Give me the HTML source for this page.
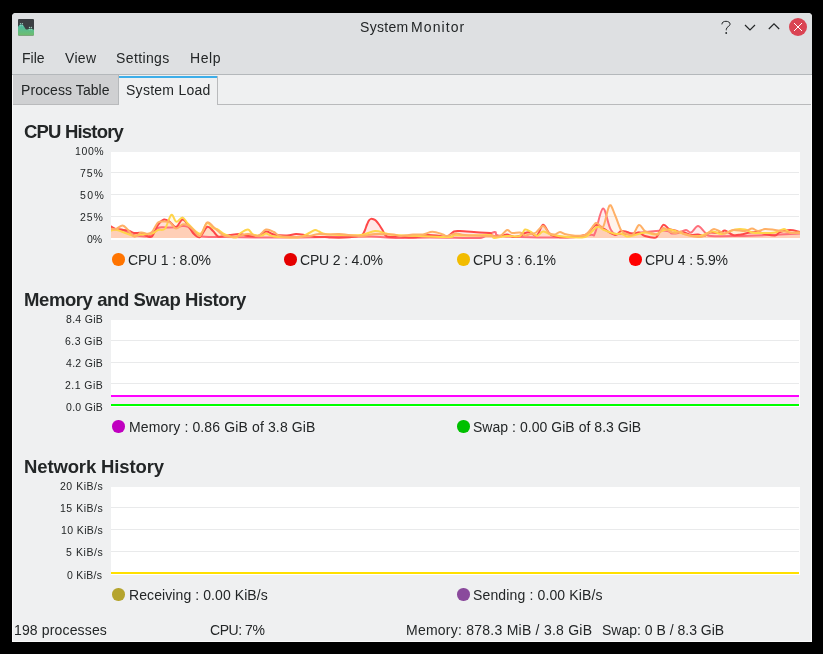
<!DOCTYPE html>
<html><head><meta charset="utf-8">
<style>
html,body{margin:0;padding:0;}
body{width:823px;height:654px;background:#000;position:relative;overflow:hidden;font-family:"Liberation Sans",sans-serif;color:#232627;}
.a{position:absolute;white-space:nowrap;}
.tx{will-change:transform;}
.dot{position:absolute;width:12.5px;height:12.5px;border-radius:50%;}
.plot{position:absolute;left:111px;width:689px;background:#fff;}
.grid{position:absolute;left:111px;width:688px;height:1px;background:#e9eaeb;}
</style></head>
<body>
<div class="a" style="left:12px;top:13px;width:800px;height:629px;background:#eff0f1;border-radius:4px 4px 0 0;"></div>
<div class="a" style="left:12px;top:13px;width:800px;height:61px;background:#dee0e2;border-radius:4px 4px 0 0;"></div>
<div class="a" style="left:12px;top:74px;width:800px;height:1px;background:#b4b8bb;"></div>
<div class="a" style="left:12px;top:75px;width:1px;height:567px;background:#fafafa;"></div>
<div class="a" style="left:811px;top:75px;width:1px;height:567px;background:#fafafa;"></div>
<div class="a" style="left:12px;top:641px;width:800px;height:1px;background:#fafafa;"></div>

<svg class="a" style="left:18px;top:19px" width="16" height="17" viewBox="0 0 16 17">
<defs><linearGradient id="ig" x1="0" y1="0" x2="0" y2="1"><stop offset="0" stop-color="#48bba9"/><stop offset="1" stop-color="#6fbd6c"/></linearGradient></defs>
<rect x="0" y="0" width="16" height="16.5" rx="1" fill="#3b3f43"/>
<path d="M0 8.1 C0.5 7 1.5 5.6 2.6 5.5 L4.1 5.5 C5 5.6 5.6 6.6 6.9 9 C7.5 10 8 10.6 8.8 10.6 C9.6 10.6 10.4 9.8 11.5 9.8 L13.3 9.8 C14.3 9.8 15.2 10.5 16 10.8 L16 15.5 Q16 16.5 15 16.5 L1 16.5 Q0 16.5 0 15.5 Z" fill="url(#ig)"/>
<g fill="#a0cfc0"><circle cx="2.5" cy="4.6" r="0.7"/><circle cx="4.4" cy="4.6" r="0.7"/><circle cx="11.5" cy="8.4" r="0.7"/><circle cx="13.4" cy="8.4" r="0.7"/></g>
<g fill="#8ed3bd" opacity="0.8"><circle cx="2.5" cy="6.6" r="0.8"/><circle cx="4.4" cy="6.6" r="0.8"/><circle cx="11.5" cy="10.5" r="0.8"/><circle cx="13.4" cy="10.5" r="0.8"/></g>
</svg>

<svg class="a" style="left:712px;top:13px" width="100" height="28" viewBox="712 13 100 28">
<path d="M721.9 24.4 C721.9 22.2 723.7 21.3 726 21.3 C728.3 21.3 730.1 22.4 730.1 24.2 C730.1 26.3 726.3 26.8 726.3 29.3 L726.3 30.3" fill="none" stroke="#232627" stroke-width="1"/>
<circle cx="726.2" cy="33" r="0.9" fill="#232627"/>
<path d="M745 25 L750 30 L755 25" fill="none" stroke="#232627" stroke-width="1.2"/>
<path d="M768.8 29 L774 23.8 L779.2 29" fill="none" stroke="#232627" stroke-width="1.2"/>
<circle cx="798" cy="27" r="9" fill="#da4453"/>
<path d="M794 23 L802 31 M802 23 L794 31" stroke="#fff" stroke-width="1"/>
</svg>

<div class="a" style="left:13px;top:75px;width:105px;height:29px;background:#cfd0d2;border-right:1px solid #b6b9bb;"></div>
<div class="a" style="left:218px;top:104px;width:593px;height:1px;background:#b9babc;"></div>
<div class="a" style="left:13px;top:104px;width:106px;height:1px;background:#b9babc;"></div>
<div class="a" style="left:119px;top:76px;width:98px;height:2px;background:#3daee9;"></div>
<div class="a" style="left:217px;top:76px;width:1px;height:29px;background:#b9babc;"></div>

<div class="plot" style="top:152px;height:88px;"></div>
<div class="grid" style="top:172px"></div>
<div class="grid" style="top:194px"></div>
<div class="grid" style="top:216px"></div>

<div class="dot" style="left:112px;top:253px;background:#ff7400"></div>
<div class="dot" style="left:284px;top:253px;background:#e50000"></div>
<div class="dot" style="left:457px;top:253px;background:#f2bc00"></div>
<div class="dot" style="left:629px;top:253px;background:#ff0000"></div>

<div class="plot" style="top:320px;height:87px;"></div>
<div class="grid" style="top:340px"></div>
<div class="grid" style="top:362px"></div>
<div class="grid" style="top:383px"></div>
<div class="a" style="left:111px;top:397px;width:688px;height:9px;background:#fbe5fb;"></div>
<div class="a" style="left:111px;top:395px;width:688px;height:2px;background:#ff00ff;"></div>
<div class="a" style="left:111px;top:404px;width:688px;height:2px;background:#00ff00;"></div>
<div class="dot" style="left:112px;top:420px;background:#c000c0"></div>
<div class="dot" style="left:457px;top:420px;background:#00c000"></div>

<div class="plot" style="top:487px;height:88px;"></div>
<div class="grid" style="top:507px"></div>
<div class="grid" style="top:529px"></div>
<div class="grid" style="top:551px"></div>
<div class="a" style="left:111px;top:572px;width:688px;height:2px;background:#ffe000;"></div>
<div class="dot" style="left:112px;top:588px;background:#b5a42e"></div>
<div class="dot" style="left:457px;top:588px;background:#8a4a9c"></div>
<svg class="a" style="left:111px;top:152px" width="689" height="88" viewBox="111 152 689 88">
<path d="M111.0 228.5 C112.8 228.7 118.8 228.6 122.0 229.5 C125.2 230.4 127.0 232.9 130.0 234.0 C133.0 235.1 136.7 235.7 140.0 236.0 C143.3 236.3 147.0 237.3 150.0 236.0 C153.0 234.7 155.3 229.4 158.0 228.0 C160.7 226.6 163.0 227.6 166.0 227.5 C169.0 227.4 173.3 227.4 176.0 227.2 C178.7 226.9 180.0 226.0 182.0 226.0 C184.0 226.0 185.0 225.3 188.0 227.0 C191.0 228.7 193.8 234.3 200.0 236.0 C206.2 237.7 215.0 236.8 225.0 237.0 C235.0 237.2 247.5 237.4 260.0 237.5 C272.5 237.6 287.3 237.6 300.0 237.5 C312.7 237.4 324.2 237.2 336.0 237.0 C347.8 236.8 361.0 236.3 371.0 236.5 C381.0 236.7 386.2 237.8 396.0 238.0 C405.8 238.0 418.5 237.5 430.0 237.5 C441.5 237.5 456.7 237.9 465.0 238.0 C473.3 238.0 475.1 238.0 480.0 238.0 C484.9 237.0 491.5 232.4 494.5 232.0 C497.5 231.6 493.8 234.7 498.0 235.5 C502.2 236.3 509.7 236.7 520.0 237.0 C530.3 237.3 548.3 237.8 560.0 237.5 C571.7 237.2 584.2 235.8 590.0 235.0 C595.8 234.2 592.8 237.4 595.0 233.0 C597.2 228.6 600.3 209.0 603.0 208.5 C605.7 208.0 608.0 225.8 611.0 230.0 C614.0 234.2 612.3 233.9 621.0 234.0 C629.7 234.1 654.5 230.6 663.0 230.5 C671.5 230.4 669.5 233.1 672.0 233.5 C674.5 233.9 675.7 233.6 678.0 233.0 C680.3 232.4 683.8 230.1 686.0 230.0 C688.2 229.9 689.0 233.2 691.0 232.5 C693.0 231.8 695.7 226.0 698.0 226.0 C700.3 226.0 702.8 230.8 705.0 232.5 C707.2 234.2 705.2 235.4 711.0 236.0 C716.8 236.6 728.5 236.2 740.0 236.0 C751.5 235.8 770.0 234.9 780.0 234.5 C790.0 234.1 796.7 233.7 800.0 233.5 L800.0 238 L111.0 238 Z" fill="#ff6e7a" fill-opacity="0.135"/>
<path d="M111.0 226.5 C112.0 227.0 114.2 228.8 117.0 229.5 C119.8 230.2 125.2 229.9 128.0 230.5 C130.8 231.1 131.8 232.6 134.0 233.0 C136.2 233.4 138.8 232.5 141.0 233.0 C143.2 233.5 145.2 235.4 147.0 236.0 C148.8 236.6 150.2 238.0 152.0 236.5 C153.8 234.7 156.0 227.8 158.0 225.0 C160.0 222.2 162.0 220.0 164.0 219.5 C166.0 219.0 168.0 220.8 170.0 222.0 C172.0 223.2 173.9 227.4 176.0 227.0 C178.1 226.6 180.5 219.9 182.5 219.6 C184.5 219.3 186.2 222.8 188.0 225.0 C189.8 227.2 191.0 231.0 193.0 233.0 C195.0 235.0 197.7 238.0 200.0 237.0 C202.3 236.0 204.8 228.0 207.0 227.0 C209.2 226.0 211.2 229.4 213.0 231.0 C214.8 232.6 216.0 235.7 218.0 236.5 C220.0 237.3 223.0 236.2 225.0 236.0 C227.0 235.8 227.5 235.3 230.0 235.0 C232.5 234.7 237.0 233.8 240.0 234.0 C243.0 234.2 245.0 235.7 248.0 236.0 C251.0 236.3 255.0 236.8 258.0 236.0 C261.0 235.2 263.3 231.8 266.0 231.5 C268.7 231.2 270.5 233.8 274.0 234.5 C277.5 235.2 283.3 235.6 287.0 235.5 C290.7 235.4 293.0 234.1 296.0 234.0 C299.0 233.9 301.8 234.5 305.0 235.0 C308.2 235.5 311.7 236.7 315.0 237.0 C318.3 237.3 322.3 236.9 325.0 237.0 C327.7 237.1 327.7 237.4 331.0 237.5 C334.3 237.6 341.0 237.7 345.0 237.5 C349.0 237.3 352.2 236.9 355.0 236.5 C357.8 236.1 360.3 236.1 362.0 235.0 C363.7 233.9 364.2 231.8 365.0 230.0 C365.8 228.2 366.3 226.1 367.0 224.5 C367.7 222.9 368.3 221.3 369.0 220.4 C369.7 219.5 370.2 219.1 371.0 218.9 C371.8 218.7 372.7 219.0 373.5 219.3 C374.3 219.6 375.1 219.9 376.0 220.8 C376.9 221.7 377.9 223.0 379.0 224.5 C380.1 226.0 381.2 228.0 382.5 230.0 C383.8 232.0 384.1 235.4 387.0 236.5 C389.9 237.6 395.7 236.3 400.0 236.5 C404.3 236.7 408.3 237.8 413.0 237.5 C417.7 237.2 423.5 235.2 428.0 235.0 C432.5 234.8 436.8 235.8 440.0 236.0 C443.2 236.2 444.7 237.2 447.0 236.5 C449.3 235.8 451.8 232.4 454.0 231.5 C456.2 230.6 455.7 230.8 460.0 231.0 C464.3 231.2 475.0 232.2 480.0 232.5 C485.0 232.8 488.0 232.5 490.0 233.0 C492.0 233.5 490.3 234.9 492.0 235.5 C493.7 236.1 497.5 236.7 500.0 236.5 C502.5 236.3 504.7 234.4 507.0 234.5 C509.3 234.6 511.7 236.8 514.0 237.0 C516.3 237.2 519.2 236.2 521.0 235.5 C522.8 234.8 523.5 233.5 525.0 233.0 C526.5 232.5 528.0 232.1 530.0 232.5 C532.0 232.9 534.8 236.8 537.0 235.5 C539.2 234.2 541.0 225.2 543.0 224.8 C545.0 224.4 547.2 231.1 549.0 233.0 C550.8 234.9 551.0 235.2 554.0 236.0 C557.0 236.8 561.8 237.7 567.0 237.5 C572.2 237.3 580.2 237.1 585.0 235.0 C589.8 232.9 592.8 225.8 596.0 224.8 C599.2 223.8 600.8 227.3 604.0 229.0 C607.2 230.7 612.2 234.7 615.0 235.0 C617.8 235.3 619.0 231.5 621.0 231.0 C623.0 230.5 625.0 231.5 627.0 232.0 C629.0 232.5 631.0 233.9 633.0 234.0 C635.0 234.1 637.0 232.2 639.0 232.5 C641.0 232.8 642.2 235.2 645.0 236.0 C647.8 236.8 653.0 238.0 656.0 237.5 C659.0 235.7 660.8 226.4 663.0 225.0 C665.2 223.6 667.0 228.1 669.0 229.0 C671.0 229.9 673.0 229.9 675.0 230.5 C677.0 231.1 679.5 232.2 681.0 232.5 C682.5 232.8 682.3 232.1 684.0 232.5 C685.7 232.9 688.7 234.7 691.0 235.0 C693.3 235.3 695.8 234.3 698.0 234.5 C700.2 234.7 702.0 236.3 704.0 236.0 C706.0 235.7 707.3 233.0 710.0 232.5 C712.7 232.0 717.5 233.3 720.0 233.0 C722.5 232.7 722.8 230.2 725.0 230.5 C727.2 230.8 730.3 234.3 733.0 235.0 C735.7 235.7 738.2 234.9 741.0 234.5 C743.8 234.1 747.2 232.9 750.0 232.5 C752.8 232.1 755.5 231.8 758.0 232.0 C760.5 232.2 762.2 233.4 765.0 234.0 C767.8 234.6 772.5 235.8 775.0 235.5 C777.5 235.2 777.5 232.9 780.0 232.0 C782.5 231.1 786.7 230.0 790.0 230.0 C793.3 230.0 798.3 231.7 800.0 232.0 L800.0 238 L111.0 238 Z" fill="#ff4848" fill-opacity="0.135"/>
<path d="M111.0 230.5 C112.0 230.4 114.2 229.4 117.0 230.0 C119.8 230.6 125.2 233.0 128.0 234.0 C130.8 235.0 131.8 235.7 134.0 235.8 C136.2 235.9 138.0 234.9 141.0 234.5 C144.0 234.1 149.2 234.2 152.0 233.5 C154.8 232.8 155.8 230.8 158.0 230.0 C160.2 229.2 162.8 231.1 165.0 228.6 C167.2 226.1 169.4 215.9 171.3 214.8 C173.2 213.7 174.4 221.4 176.3 221.8 C178.2 222.2 180.6 217.1 182.5 217.4 C184.4 217.7 185.1 221.0 188.0 223.7 C190.9 226.4 196.8 233.9 200.0 233.8 C203.2 233.7 204.8 224.0 207.0 223.0 C209.2 222.0 211.2 226.9 213.0 228.0 C214.8 229.1 216.0 228.5 218.0 229.6 C220.0 230.7 222.0 233.2 225.0 234.5 C228.0 235.8 233.5 237.7 236.0 237.5 C238.5 237.3 238.0 234.8 240.0 233.5 C242.0 232.2 245.8 229.3 248.0 229.5 C250.2 229.7 250.7 233.5 253.0 234.5 C255.3 235.5 259.8 235.7 262.0 235.5 C264.2 235.3 264.0 233.3 266.0 233.5 C268.0 233.7 270.0 235.8 274.0 236.5 C278.0 237.2 285.7 237.4 290.0 237.5 C294.3 237.6 296.8 237.8 300.0 237.0 C303.2 236.2 306.5 234.2 309.0 233.0 C311.5 231.8 313.3 230.2 315.0 230.0 C316.7 229.8 317.3 230.8 319.0 231.5 C320.7 232.2 321.7 233.4 325.0 234.0 C328.3 234.6 333.0 234.8 339.0 235.0 C345.0 235.2 355.0 235.7 361.0 235.0 C367.0 234.3 370.8 231.2 375.0 231.0 C379.2 230.8 382.5 232.8 386.0 233.5 C389.5 234.2 390.3 234.6 396.0 235.0 C401.7 235.4 411.0 235.7 420.0 236.0 C429.0 236.3 444.3 237.2 450.0 237.0 C455.7 236.8 451.5 235.2 454.0 235.0 C456.5 234.8 459.0 235.5 465.0 235.5 C471.0 235.5 485.2 234.6 490.0 235.0 C494.8 235.4 491.2 237.8 494.0 238.0 C496.8 238.0 502.7 236.3 507.0 236.0 C511.3 235.7 517.0 237.1 520.0 236.0 C523.0 234.9 523.2 230.2 525.0 229.5 C526.8 228.8 529.0 230.9 531.0 232.0 C533.0 233.1 535.0 236.1 537.0 236.0 C539.0 235.9 540.7 231.8 543.0 231.5 C545.3 231.2 547.0 233.6 551.0 234.5 C555.0 235.4 561.3 236.6 567.0 237.0 C572.7 237.4 580.0 238.0 585.0 237.0 C590.0 235.3 593.8 228.2 597.0 227.0 C600.2 225.8 601.0 228.9 604.0 230.0 C607.0 231.1 612.2 233.2 615.0 233.8 C617.8 234.4 619.0 233.1 621.0 233.5 C623.0 233.9 625.0 236.2 627.0 236.5 C629.0 236.8 630.0 236.2 633.0 235.5 C636.0 234.8 641.3 232.7 645.0 232.5 C648.7 232.3 652.0 234.8 655.0 234.5 C658.0 234.2 660.5 231.3 663.0 230.5 C665.5 229.7 667.0 229.1 670.0 229.5 C673.0 229.9 677.7 232.0 681.0 233.0 C684.3 234.0 686.8 235.0 690.0 235.5 C693.2 236.0 696.3 236.7 700.0 236.0 C703.7 235.3 708.3 231.8 712.0 231.5 C715.7 231.2 718.2 234.3 722.0 234.0 C725.8 233.7 731.2 230.2 735.0 229.5 C738.8 228.8 742.2 229.0 745.0 229.5 C747.8 230.0 749.5 231.9 752.0 232.5 C754.5 233.1 756.2 233.0 760.0 233.0 C763.8 233.0 771.0 233.2 775.0 232.5 C779.0 231.8 781.5 229.0 784.0 229.0 C786.5 229.0 787.3 231.9 790.0 232.5 C792.7 233.1 798.3 232.5 800.0 232.5 L800.0 238 L111.0 238 Z" fill="#ffd54a" fill-opacity="0.135"/>
<path d="M111.0 228.7 C111.8 228.8 114.1 229.6 116.0 229.0 C117.9 228.4 120.6 225.2 122.6 225.4 C124.6 225.6 126.0 228.1 128.0 230.0 C130.0 231.9 132.4 236.3 134.6 236.7 C136.8 237.1 138.8 233.0 141.0 232.5 C143.2 232.0 145.7 233.9 147.5 233.8 C149.3 233.7 150.2 233.9 152.0 232.0 C153.8 230.1 156.0 224.2 158.0 222.5 C160.0 220.8 162.0 221.5 164.0 221.5 C166.0 221.5 168.0 221.3 170.0 222.5 C172.0 223.7 173.9 228.2 176.0 228.5 C178.1 228.8 180.5 225.0 182.5 224.5 C184.5 224.0 186.2 224.7 188.0 225.5 C189.8 226.3 191.0 227.8 193.0 229.6 C195.0 231.3 197.7 237.2 200.0 236.0 C202.3 234.8 204.8 224.1 207.0 222.5 C209.2 220.9 211.2 225.1 213.0 226.5 C214.8 227.9 216.0 229.4 218.0 231.0 C220.0 232.6 222.0 235.1 225.0 236.0 C228.0 236.9 232.2 236.8 236.0 236.5 C239.8 236.2 244.3 234.1 248.0 234.0 C251.7 233.9 255.0 236.8 258.0 236.0 C261.0 235.2 263.3 230.2 266.0 229.5 C268.7 228.8 271.7 230.9 274.0 232.0 C276.3 233.1 276.3 235.2 280.0 236.0 C283.7 236.8 291.2 237.0 296.0 237.0 C300.8 237.0 305.2 236.5 309.0 236.0 C312.8 235.5 315.7 234.2 319.0 234.0 C322.3 233.8 325.7 234.5 329.0 234.5 C332.3 234.5 333.7 233.8 339.0 234.0 C344.3 234.2 355.0 236.0 361.0 236.0 C367.0 236.0 369.7 234.2 375.0 234.0 C380.3 233.8 388.8 234.2 393.0 234.5 C397.2 234.8 396.7 236.0 400.0 236.0 C403.3 236.0 409.2 234.8 413.0 234.5 C416.8 234.2 419.8 234.9 423.0 234.5 C426.2 234.1 429.2 231.8 432.5 231.8 C435.8 231.8 440.6 233.8 443.0 234.5 C445.4 235.2 444.8 236.2 447.0 236.0 C449.2 235.8 453.0 233.7 456.0 233.5 C459.0 233.3 459.3 234.6 465.0 235.0 C470.7 235.4 484.2 235.8 490.0 236.0 C495.8 236.2 497.2 237.0 500.0 236.0 C502.8 235.0 505.0 230.5 507.0 230.0 C509.0 229.5 509.8 232.6 512.0 233.0 C514.2 233.4 517.8 232.1 520.0 232.5 C522.2 232.9 523.3 235.2 525.0 235.5 C526.7 235.8 528.2 234.5 530.0 234.0 C531.8 233.5 533.8 233.8 536.0 232.5 C538.2 231.2 540.8 225.9 543.0 226.0 C545.2 226.1 547.0 231.6 549.0 233.0 C551.0 234.4 553.2 234.7 555.0 234.5 C556.8 234.3 558.0 232.0 560.0 232.0 C562.0 232.0 562.8 234.0 567.0 234.5 C571.2 235.0 580.2 236.9 585.0 235.0 C589.8 233.1 593.0 224.3 596.0 223.0 C599.0 221.7 600.8 229.9 603.0 227.0 C605.2 224.1 607.5 207.5 609.5 205.5 C611.5 203.5 613.1 210.9 615.0 215.0 C616.9 219.1 619.0 226.8 621.0 230.0 C623.0 233.2 625.0 233.2 627.0 234.0 C629.0 234.8 631.0 236.0 633.0 234.5 C635.0 233.0 637.0 225.6 639.0 225.0 C641.0 224.4 642.7 229.6 645.0 231.0 C647.3 232.4 650.8 232.9 653.0 233.5 C655.2 234.1 656.3 235.4 658.0 234.5 C659.7 233.6 661.0 228.5 663.0 228.0 C665.0 227.5 668.0 230.7 670.0 231.5 C672.0 232.3 673.2 233.0 675.0 233.0 C676.8 233.0 679.5 231.3 681.0 231.5 C682.5 231.7 681.2 233.1 684.0 234.0 C686.8 234.9 694.7 236.7 698.0 237.0 C701.3 237.3 702.0 236.9 704.0 236.0 C706.0 235.1 708.3 232.7 710.0 231.5 C711.7 230.3 712.3 229.0 714.0 229.0 C715.7 229.0 718.2 230.8 720.0 231.5 C721.8 232.2 722.8 233.8 725.0 233.5 C727.2 233.2 729.7 230.4 733.0 230.0 C736.3 229.6 741.8 231.2 745.0 231.0 C748.2 230.8 749.8 228.5 752.0 228.5 C754.2 228.5 755.8 230.9 758.0 231.0 C760.2 231.1 762.2 229.2 765.0 229.0 C767.8 228.8 771.7 229.6 775.0 230.0 C778.3 230.4 782.2 231.0 785.0 231.5 C787.8 232.0 789.5 232.8 792.0 233.0 C794.5 233.2 798.7 233.0 800.0 233.0 L800.0 238 L111.0 238 Z" fill="#ffb066" fill-opacity="0.135"/>
<path d="M111.0 228.5 C112.8 228.7 118.8 228.6 122.0 229.5 C125.2 230.4 127.0 232.9 130.0 234.0 C133.0 235.1 136.7 235.7 140.0 236.0 C143.3 236.3 147.0 237.3 150.0 236.0 C153.0 234.7 155.3 229.4 158.0 228.0 C160.7 226.6 163.0 227.6 166.0 227.5 C169.0 227.4 173.3 227.4 176.0 227.2 C178.7 226.9 180.0 226.0 182.0 226.0 C184.0 226.0 185.0 225.3 188.0 227.0 C191.0 228.7 193.8 234.3 200.0 236.0 C206.2 237.7 215.0 236.8 225.0 237.0 C235.0 237.2 247.5 237.4 260.0 237.5 C272.5 237.6 287.3 237.6 300.0 237.5 C312.7 237.4 324.2 237.2 336.0 237.0 C347.8 236.8 361.0 236.3 371.0 236.5 C381.0 236.7 386.2 237.8 396.0 238.0 C405.8 238.0 418.5 237.5 430.0 237.5 C441.5 237.5 456.7 237.9 465.0 238.0 C473.3 238.0 475.1 238.0 480.0 238.0 C484.9 237.0 491.5 232.4 494.5 232.0 C497.5 231.6 493.8 234.7 498.0 235.5 C502.2 236.3 509.7 236.7 520.0 237.0 C530.3 237.3 548.3 237.8 560.0 237.5 C571.7 237.2 584.2 235.8 590.0 235.0 C595.8 234.2 592.8 237.4 595.0 233.0 C597.2 228.6 600.3 209.0 603.0 208.5 C605.7 208.0 608.0 225.8 611.0 230.0 C614.0 234.2 612.3 233.9 621.0 234.0 C629.7 234.1 654.5 230.6 663.0 230.5 C671.5 230.4 669.5 233.1 672.0 233.5 C674.5 233.9 675.7 233.6 678.0 233.0 C680.3 232.4 683.8 230.1 686.0 230.0 C688.2 229.9 689.0 233.2 691.0 232.5 C693.0 231.8 695.7 226.0 698.0 226.0 C700.3 226.0 702.8 230.8 705.0 232.5 C707.2 234.2 705.2 235.4 711.0 236.0 C716.8 236.6 728.5 236.2 740.0 236.0 C751.5 235.8 770.0 234.9 780.0 234.5 C790.0 234.1 796.7 233.7 800.0 233.5" fill="none" stroke="#ff6e7a" stroke-width="2" stroke-linejoin="round" stroke-linecap="round"/>
<path d="M111.0 226.5 C112.0 227.0 114.2 228.8 117.0 229.5 C119.8 230.2 125.2 229.9 128.0 230.5 C130.8 231.1 131.8 232.6 134.0 233.0 C136.2 233.4 138.8 232.5 141.0 233.0 C143.2 233.5 145.2 235.4 147.0 236.0 C148.8 236.6 150.2 238.0 152.0 236.5 C153.8 234.7 156.0 227.8 158.0 225.0 C160.0 222.2 162.0 220.0 164.0 219.5 C166.0 219.0 168.0 220.8 170.0 222.0 C172.0 223.2 173.9 227.4 176.0 227.0 C178.1 226.6 180.5 219.9 182.5 219.6 C184.5 219.3 186.2 222.8 188.0 225.0 C189.8 227.2 191.0 231.0 193.0 233.0 C195.0 235.0 197.7 238.0 200.0 237.0 C202.3 236.0 204.8 228.0 207.0 227.0 C209.2 226.0 211.2 229.4 213.0 231.0 C214.8 232.6 216.0 235.7 218.0 236.5 C220.0 237.3 223.0 236.2 225.0 236.0 C227.0 235.8 227.5 235.3 230.0 235.0 C232.5 234.7 237.0 233.8 240.0 234.0 C243.0 234.2 245.0 235.7 248.0 236.0 C251.0 236.3 255.0 236.8 258.0 236.0 C261.0 235.2 263.3 231.8 266.0 231.5 C268.7 231.2 270.5 233.8 274.0 234.5 C277.5 235.2 283.3 235.6 287.0 235.5 C290.7 235.4 293.0 234.1 296.0 234.0 C299.0 233.9 301.8 234.5 305.0 235.0 C308.2 235.5 311.7 236.7 315.0 237.0 C318.3 237.3 322.3 236.9 325.0 237.0 C327.7 237.1 327.7 237.4 331.0 237.5 C334.3 237.6 341.0 237.7 345.0 237.5 C349.0 237.3 352.2 236.9 355.0 236.5 C357.8 236.1 360.3 236.1 362.0 235.0 C363.7 233.9 364.2 231.8 365.0 230.0 C365.8 228.2 366.3 226.1 367.0 224.5 C367.7 222.9 368.3 221.3 369.0 220.4 C369.7 219.5 370.2 219.1 371.0 218.9 C371.8 218.7 372.7 219.0 373.5 219.3 C374.3 219.6 375.1 219.9 376.0 220.8 C376.9 221.7 377.9 223.0 379.0 224.5 C380.1 226.0 381.2 228.0 382.5 230.0 C383.8 232.0 384.1 235.4 387.0 236.5 C389.9 237.6 395.7 236.3 400.0 236.5 C404.3 236.7 408.3 237.8 413.0 237.5 C417.7 237.2 423.5 235.2 428.0 235.0 C432.5 234.8 436.8 235.8 440.0 236.0 C443.2 236.2 444.7 237.2 447.0 236.5 C449.3 235.8 451.8 232.4 454.0 231.5 C456.2 230.6 455.7 230.8 460.0 231.0 C464.3 231.2 475.0 232.2 480.0 232.5 C485.0 232.8 488.0 232.5 490.0 233.0 C492.0 233.5 490.3 234.9 492.0 235.5 C493.7 236.1 497.5 236.7 500.0 236.5 C502.5 236.3 504.7 234.4 507.0 234.5 C509.3 234.6 511.7 236.8 514.0 237.0 C516.3 237.2 519.2 236.2 521.0 235.5 C522.8 234.8 523.5 233.5 525.0 233.0 C526.5 232.5 528.0 232.1 530.0 232.5 C532.0 232.9 534.8 236.8 537.0 235.5 C539.2 234.2 541.0 225.2 543.0 224.8 C545.0 224.4 547.2 231.1 549.0 233.0 C550.8 234.9 551.0 235.2 554.0 236.0 C557.0 236.8 561.8 237.7 567.0 237.5 C572.2 237.3 580.2 237.1 585.0 235.0 C589.8 232.9 592.8 225.8 596.0 224.8 C599.2 223.8 600.8 227.3 604.0 229.0 C607.2 230.7 612.2 234.7 615.0 235.0 C617.8 235.3 619.0 231.5 621.0 231.0 C623.0 230.5 625.0 231.5 627.0 232.0 C629.0 232.5 631.0 233.9 633.0 234.0 C635.0 234.1 637.0 232.2 639.0 232.5 C641.0 232.8 642.2 235.2 645.0 236.0 C647.8 236.8 653.0 238.0 656.0 237.5 C659.0 235.7 660.8 226.4 663.0 225.0 C665.2 223.6 667.0 228.1 669.0 229.0 C671.0 229.9 673.0 229.9 675.0 230.5 C677.0 231.1 679.5 232.2 681.0 232.5 C682.5 232.8 682.3 232.1 684.0 232.5 C685.7 232.9 688.7 234.7 691.0 235.0 C693.3 235.3 695.8 234.3 698.0 234.5 C700.2 234.7 702.0 236.3 704.0 236.0 C706.0 235.7 707.3 233.0 710.0 232.5 C712.7 232.0 717.5 233.3 720.0 233.0 C722.5 232.7 722.8 230.2 725.0 230.5 C727.2 230.8 730.3 234.3 733.0 235.0 C735.7 235.7 738.2 234.9 741.0 234.5 C743.8 234.1 747.2 232.9 750.0 232.5 C752.8 232.1 755.5 231.8 758.0 232.0 C760.5 232.2 762.2 233.4 765.0 234.0 C767.8 234.6 772.5 235.8 775.0 235.5 C777.5 235.2 777.5 232.9 780.0 232.0 C782.5 231.1 786.7 230.0 790.0 230.0 C793.3 230.0 798.3 231.7 800.0 232.0" fill="none" stroke="#ff4848" stroke-width="2" stroke-linejoin="round" stroke-linecap="round"/>
<path d="M111.0 230.5 C112.0 230.4 114.2 229.4 117.0 230.0 C119.8 230.6 125.2 233.0 128.0 234.0 C130.8 235.0 131.8 235.7 134.0 235.8 C136.2 235.9 138.0 234.9 141.0 234.5 C144.0 234.1 149.2 234.2 152.0 233.5 C154.8 232.8 155.8 230.8 158.0 230.0 C160.2 229.2 162.8 231.1 165.0 228.6 C167.2 226.1 169.4 215.9 171.3 214.8 C173.2 213.7 174.4 221.4 176.3 221.8 C178.2 222.2 180.6 217.1 182.5 217.4 C184.4 217.7 185.1 221.0 188.0 223.7 C190.9 226.4 196.8 233.9 200.0 233.8 C203.2 233.7 204.8 224.0 207.0 223.0 C209.2 222.0 211.2 226.9 213.0 228.0 C214.8 229.1 216.0 228.5 218.0 229.6 C220.0 230.7 222.0 233.2 225.0 234.5 C228.0 235.8 233.5 237.7 236.0 237.5 C238.5 237.3 238.0 234.8 240.0 233.5 C242.0 232.2 245.8 229.3 248.0 229.5 C250.2 229.7 250.7 233.5 253.0 234.5 C255.3 235.5 259.8 235.7 262.0 235.5 C264.2 235.3 264.0 233.3 266.0 233.5 C268.0 233.7 270.0 235.8 274.0 236.5 C278.0 237.2 285.7 237.4 290.0 237.5 C294.3 237.6 296.8 237.8 300.0 237.0 C303.2 236.2 306.5 234.2 309.0 233.0 C311.5 231.8 313.3 230.2 315.0 230.0 C316.7 229.8 317.3 230.8 319.0 231.5 C320.7 232.2 321.7 233.4 325.0 234.0 C328.3 234.6 333.0 234.8 339.0 235.0 C345.0 235.2 355.0 235.7 361.0 235.0 C367.0 234.3 370.8 231.2 375.0 231.0 C379.2 230.8 382.5 232.8 386.0 233.5 C389.5 234.2 390.3 234.6 396.0 235.0 C401.7 235.4 411.0 235.7 420.0 236.0 C429.0 236.3 444.3 237.2 450.0 237.0 C455.7 236.8 451.5 235.2 454.0 235.0 C456.5 234.8 459.0 235.5 465.0 235.5 C471.0 235.5 485.2 234.6 490.0 235.0 C494.8 235.4 491.2 237.8 494.0 238.0 C496.8 238.0 502.7 236.3 507.0 236.0 C511.3 235.7 517.0 237.1 520.0 236.0 C523.0 234.9 523.2 230.2 525.0 229.5 C526.8 228.8 529.0 230.9 531.0 232.0 C533.0 233.1 535.0 236.1 537.0 236.0 C539.0 235.9 540.7 231.8 543.0 231.5 C545.3 231.2 547.0 233.6 551.0 234.5 C555.0 235.4 561.3 236.6 567.0 237.0 C572.7 237.4 580.0 238.0 585.0 237.0 C590.0 235.3 593.8 228.2 597.0 227.0 C600.2 225.8 601.0 228.9 604.0 230.0 C607.0 231.1 612.2 233.2 615.0 233.8 C617.8 234.4 619.0 233.1 621.0 233.5 C623.0 233.9 625.0 236.2 627.0 236.5 C629.0 236.8 630.0 236.2 633.0 235.5 C636.0 234.8 641.3 232.7 645.0 232.5 C648.7 232.3 652.0 234.8 655.0 234.5 C658.0 234.2 660.5 231.3 663.0 230.5 C665.5 229.7 667.0 229.1 670.0 229.5 C673.0 229.9 677.7 232.0 681.0 233.0 C684.3 234.0 686.8 235.0 690.0 235.5 C693.2 236.0 696.3 236.7 700.0 236.0 C703.7 235.3 708.3 231.8 712.0 231.5 C715.7 231.2 718.2 234.3 722.0 234.0 C725.8 233.7 731.2 230.2 735.0 229.5 C738.8 228.8 742.2 229.0 745.0 229.5 C747.8 230.0 749.5 231.9 752.0 232.5 C754.5 233.1 756.2 233.0 760.0 233.0 C763.8 233.0 771.0 233.2 775.0 232.5 C779.0 231.8 781.5 229.0 784.0 229.0 C786.5 229.0 787.3 231.9 790.0 232.5 C792.7 233.1 798.3 232.5 800.0 232.5" fill="none" stroke="#ffd54a" stroke-width="2" stroke-linejoin="round" stroke-linecap="round"/>
<path d="M111.0 228.7 C111.8 228.8 114.1 229.6 116.0 229.0 C117.9 228.4 120.6 225.2 122.6 225.4 C124.6 225.6 126.0 228.1 128.0 230.0 C130.0 231.9 132.4 236.3 134.6 236.7 C136.8 237.1 138.8 233.0 141.0 232.5 C143.2 232.0 145.7 233.9 147.5 233.8 C149.3 233.7 150.2 233.9 152.0 232.0 C153.8 230.1 156.0 224.2 158.0 222.5 C160.0 220.8 162.0 221.5 164.0 221.5 C166.0 221.5 168.0 221.3 170.0 222.5 C172.0 223.7 173.9 228.2 176.0 228.5 C178.1 228.8 180.5 225.0 182.5 224.5 C184.5 224.0 186.2 224.7 188.0 225.5 C189.8 226.3 191.0 227.8 193.0 229.6 C195.0 231.3 197.7 237.2 200.0 236.0 C202.3 234.8 204.8 224.1 207.0 222.5 C209.2 220.9 211.2 225.1 213.0 226.5 C214.8 227.9 216.0 229.4 218.0 231.0 C220.0 232.6 222.0 235.1 225.0 236.0 C228.0 236.9 232.2 236.8 236.0 236.5 C239.8 236.2 244.3 234.1 248.0 234.0 C251.7 233.9 255.0 236.8 258.0 236.0 C261.0 235.2 263.3 230.2 266.0 229.5 C268.7 228.8 271.7 230.9 274.0 232.0 C276.3 233.1 276.3 235.2 280.0 236.0 C283.7 236.8 291.2 237.0 296.0 237.0 C300.8 237.0 305.2 236.5 309.0 236.0 C312.8 235.5 315.7 234.2 319.0 234.0 C322.3 233.8 325.7 234.5 329.0 234.5 C332.3 234.5 333.7 233.8 339.0 234.0 C344.3 234.2 355.0 236.0 361.0 236.0 C367.0 236.0 369.7 234.2 375.0 234.0 C380.3 233.8 388.8 234.2 393.0 234.5 C397.2 234.8 396.7 236.0 400.0 236.0 C403.3 236.0 409.2 234.8 413.0 234.5 C416.8 234.2 419.8 234.9 423.0 234.5 C426.2 234.1 429.2 231.8 432.5 231.8 C435.8 231.8 440.6 233.8 443.0 234.5 C445.4 235.2 444.8 236.2 447.0 236.0 C449.2 235.8 453.0 233.7 456.0 233.5 C459.0 233.3 459.3 234.6 465.0 235.0 C470.7 235.4 484.2 235.8 490.0 236.0 C495.8 236.2 497.2 237.0 500.0 236.0 C502.8 235.0 505.0 230.5 507.0 230.0 C509.0 229.5 509.8 232.6 512.0 233.0 C514.2 233.4 517.8 232.1 520.0 232.5 C522.2 232.9 523.3 235.2 525.0 235.5 C526.7 235.8 528.2 234.5 530.0 234.0 C531.8 233.5 533.8 233.8 536.0 232.5 C538.2 231.2 540.8 225.9 543.0 226.0 C545.2 226.1 547.0 231.6 549.0 233.0 C551.0 234.4 553.2 234.7 555.0 234.5 C556.8 234.3 558.0 232.0 560.0 232.0 C562.0 232.0 562.8 234.0 567.0 234.5 C571.2 235.0 580.2 236.9 585.0 235.0 C589.8 233.1 593.0 224.3 596.0 223.0 C599.0 221.7 600.8 229.9 603.0 227.0 C605.2 224.1 607.5 207.5 609.5 205.5 C611.5 203.5 613.1 210.9 615.0 215.0 C616.9 219.1 619.0 226.8 621.0 230.0 C623.0 233.2 625.0 233.2 627.0 234.0 C629.0 234.8 631.0 236.0 633.0 234.5 C635.0 233.0 637.0 225.6 639.0 225.0 C641.0 224.4 642.7 229.6 645.0 231.0 C647.3 232.4 650.8 232.9 653.0 233.5 C655.2 234.1 656.3 235.4 658.0 234.5 C659.7 233.6 661.0 228.5 663.0 228.0 C665.0 227.5 668.0 230.7 670.0 231.5 C672.0 232.3 673.2 233.0 675.0 233.0 C676.8 233.0 679.5 231.3 681.0 231.5 C682.5 231.7 681.2 233.1 684.0 234.0 C686.8 234.9 694.7 236.7 698.0 237.0 C701.3 237.3 702.0 236.9 704.0 236.0 C706.0 235.1 708.3 232.7 710.0 231.5 C711.7 230.3 712.3 229.0 714.0 229.0 C715.7 229.0 718.2 230.8 720.0 231.5 C721.8 232.2 722.8 233.8 725.0 233.5 C727.2 233.2 729.7 230.4 733.0 230.0 C736.3 229.6 741.8 231.2 745.0 231.0 C748.2 230.8 749.8 228.5 752.0 228.5 C754.2 228.5 755.8 230.9 758.0 231.0 C760.2 231.1 762.2 229.2 765.0 229.0 C767.8 228.8 771.7 229.6 775.0 230.0 C778.3 230.4 782.2 231.0 785.0 231.5 C787.8 232.0 789.5 232.8 792.0 233.0 C794.5 233.2 798.7 233.0 800.0 233.0" fill="none" stroke="#ffb066" stroke-width="2" stroke-linejoin="round" stroke-linecap="round"/>
</svg>
<div class="a tx" id="t_title" style="left:360.00px;top:20.10px;font-size:14px;line-height:14px;letter-spacing:0.320px;">System</div>
<div class="a tx" id="t_title2" style="left:411.00px;top:20.10px;font-size:14px;line-height:14px;letter-spacing:1.100px;">Monitor</div>
<div class="a tx" id="m_file" style="left:22.00px;top:51.10px;font-size:14px;line-height:14px;">File</div>
<div class="a tx" id="m_view" style="left:65.00px;top:51.10px;font-size:14px;line-height:14px;letter-spacing:0.300px;">View</div>
<div class="a tx" id="m_set" style="left:116.00px;top:51.10px;font-size:14px;line-height:14px;letter-spacing:0.386px;">Settings</div>
<div class="a tx" id="m_help" style="left:190.00px;top:51.10px;font-size:14px;line-height:14px;letter-spacing:0.600px;">Help</div>
<div class="a tx" id="tab1" style="left:21.00px;top:83.10px;font-size:14px;line-height:14px;letter-spacing:0.075px;">Process Table</div>
<div class="a tx" id="tab2" style="left:126.00px;top:83.10px;font-size:14px;line-height:14px;letter-spacing:0.270px;">System Load</div>
<div class="a tx" id="h_cpu" style="left:24.00px;top:123.28px;font-size:18.5px;line-height:18.5px;letter-spacing:-0.810px;font-weight:bold;">CPU History</div>
<div class="a tx" id="h_mem" style="left:24.00px;top:291.27px;font-size:18.5px;line-height:18.5px;letter-spacing:-0.409px;font-weight:bold;">Memory and Swap History</div>
<div class="a tx" id="h_net" style="left:24.00px;top:458.27px;font-size:18.5px;line-height:18.5px;letter-spacing:-0.129px;font-weight:bold;">Network History</div>
<div class="a tx" id="a_c100" style="left:75.00px;top:146.07px;font-size:10.5px;line-height:10.5px;letter-spacing:0.600px;">100%</div>
<div class="a tx" id="a_c75" style="left:80.00px;top:168.07px;font-size:10.5px;line-height:10.5px;letter-spacing:0.900px;">75%</div>
<div class="a tx" id="a_c50" style="left:80.00px;top:190.07px;font-size:10.5px;line-height:10.5px;letter-spacing:1.350px;">50%</div>
<div class="a tx" id="a_c25" style="left:80.00px;top:212.07px;font-size:10.5px;line-height:10.5px;letter-spacing:0.900px;">25%</div>
<div class="a tx" id="a_c0" style="left:87.00px;top:234.07px;font-size:10.5px;line-height:10.5px;">0%</div>
<div class="a tx" id="a_m84" style="left:66.00px;top:314.07px;font-size:10.5px;line-height:10.5px;letter-spacing:0.300px;">8.4 GiB</div>
<div class="a tx" id="a_m63" style="left:65.00px;top:336.07px;font-size:10.5px;line-height:10.5px;letter-spacing:0.450px;">6.3 GiB</div>
<div class="a tx" id="a_m42" style="left:66.00px;top:358.07px;font-size:10.5px;line-height:10.5px;letter-spacing:0.300px;">4.2 GiB</div>
<div class="a tx" id="a_m21" style="left:65.00px;top:380.07px;font-size:10.5px;line-height:10.5px;letter-spacing:0.450px;">2.1 GiB</div>
<div class="a tx" id="a_m00" style="left:66.00px;top:402.07px;font-size:10.5px;line-height:10.5px;letter-spacing:0.300px;">0.0 GiB</div>
<div class="a tx" id="a_n20" style="left:60.00px;top:481.07px;font-size:10.5px;line-height:10.5px;letter-spacing:0.514px;">20 KiB/s</div>
<div class="a tx" id="a_n15" style="left:60.00px;top:503.07px;font-size:10.5px;line-height:10.5px;letter-spacing:0.514px;">15 KiB/s</div>
<div class="a tx" id="a_n10" style="left:61.00px;top:525.08px;font-size:10.5px;line-height:10.5px;letter-spacing:0.386px;">10 KiB/s</div>
<div class="a tx" id="a_n5" style="left:66.00px;top:547.08px;font-size:10.5px;line-height:10.5px;letter-spacing:0.600px;">5 KiB/s</div>
<div class="a tx" id="a_n0" style="left:67.00px;top:570.08px;font-size:10.5px;line-height:10.5px;letter-spacing:0.300px;">0 KiB/s</div>
<div class="a tx" id="l_c1" style="left:128.00px;top:253.10px;font-size:14px;line-height:14px;letter-spacing:-0.164px;">CPU 1 : 8.0%</div>
<div class="a tx" id="l_c2" style="left:300.00px;top:253.10px;font-size:14px;line-height:14px;letter-spacing:-0.164px;">CPU 2 : 4.0%</div>
<div class="a tx" id="l_c3" style="left:473.00px;top:253.10px;font-size:14px;line-height:14px;letter-spacing:-0.164px;">CPU 3 : 6.1%</div>
<div class="a tx" id="l_c4" style="left:645.00px;top:253.10px;font-size:14px;line-height:14px;letter-spacing:-0.164px;">CPU 4 : 5.9%</div>
<div class="a tx" id="l_mem" style="left:129.00px;top:420.10px;font-size:14px;line-height:14px;letter-spacing:0.133px;">Memory : 0.86 GiB of 3.8 GiB</div>
<div class="a tx" id="l_swap" style="left:473.00px;top:420.10px;font-size:14px;line-height:14px;letter-spacing:0.036px;">Swap : 0.00 GiB of 8.3 GiB</div>
<div class="a tx" id="l_rx" style="left:129.00px;top:588.10px;font-size:14px;line-height:14px;letter-spacing:0.086px;">Receiving : 0.00 KiB/s</div>
<div class="a tx" id="l_tx" style="left:473.00px;top:588.10px;font-size:14px;line-height:14px;letter-spacing:0.142px;">Sending : 0.00 KiB/s</div>
<div class="a tx" id="s_proc" style="left:14.00px;top:623.10px;font-size:14px;line-height:14px;letter-spacing:0.150px;">198 processes</div>
<div class="a tx" id="s_cpu" style="left:210.00px;top:623.10px;font-size:14px;line-height:14px;letter-spacing:-0.450px;">CPU: 7%</div>
<div class="a tx" id="s_mem" style="left:406.00px;top:623.10px;font-size:14px;line-height:14px;letter-spacing:0.242px;">Memory: 878.3 MiB / 3.8 GiB</div>
<div class="a tx" id="s_swap" style="left:602.00px;top:623.10px;font-size:14px;line-height:14px;">Swap: 0 B / 8.3 GiB</div>
</body></html>
